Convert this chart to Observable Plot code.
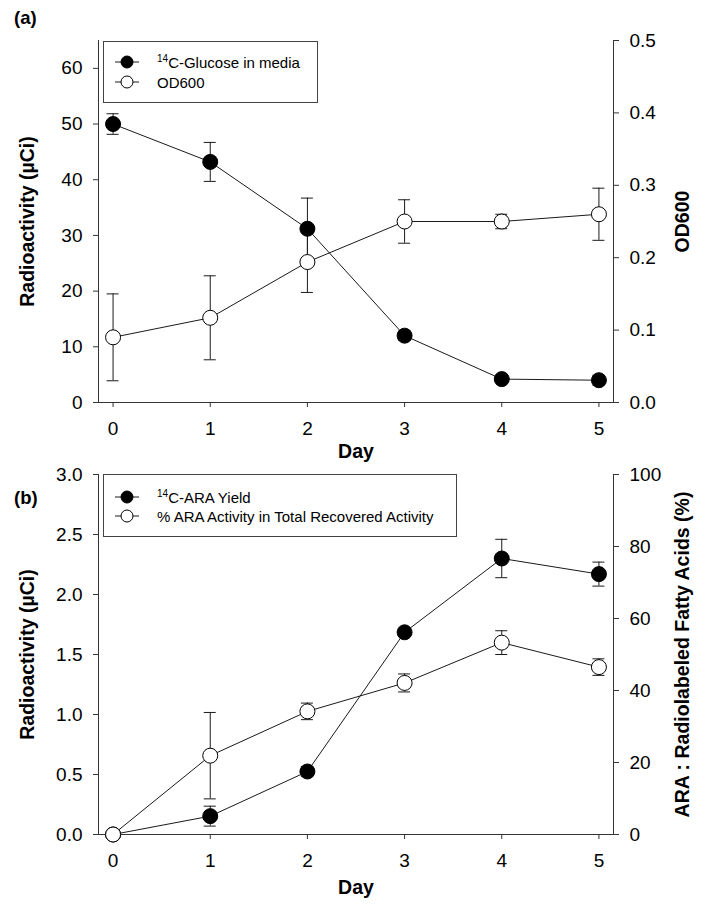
<!DOCTYPE html>
<html><head><meta charset="utf-8">
<script src="https://cdn.jsdelivr.net/npm/d3@7"></script>
<script src="https://cdn.jsdelivr.net/npm/@observablehq/plot@0.6"></script>
<style>
body{margin:0;background:#fff;font-family:"Liberation Sans",Arial,sans-serif;color:#000;}
#wrap{position:relative;width:706px;height:911px;overflow:hidden;background:#fff;}
.panel{position:absolute;left:0;}
.legend{position:absolute;border:1px solid #444;background:#fff;box-sizing:border-box;}
.legend .row{position:absolute;left:0;height:20px;display:flex;align-items:center;font-size:15px;white-space:nowrap;}
.legend .row svg{position:absolute;left:0;top:2px;}
.legend .row span{position:absolute;left:53px;}
.legend sup{font-size:10px;vertical-align:6px;line-height:0;}
.tag{position:absolute;font-weight:bold;font-size:18.5px;}
</style></head>
<body><div id="wrap"></div>
<script>
// ---------- data ----------
const days = [0, 1, 2, 3, 4, 5];

// panel (a)
const glucose    = [50.0, 43.2, 31.2, 12.0, 4.2, 4.0];   // µCi, left axis
const glucoseErr = [1.85, 3.5, 5.5, 0.8, 0.4, 0.9];
const od600      = [0.090, 0.117, 0.194, 0.250, 0.250, 0.260]; // right axis
const od600Err   = [0.060, 0.058, 0.042, 0.030, 0.010, 0.036];
const ticksLeftA  = [0, 10, 20, 30, 40, 50, 60];
const ticksRightA = [0.0, 0.1, 0.2, 0.3, 0.4, 0.5];

// panel (b)
const araYield    = [0.0, 0.153, 0.525, 1.685, 2.30, 2.17]; // µCi, left axis
const araYieldErr = [0.0, 0.083, 0.04, 0.02, 0.16, 0.10];
const araPct      = [0.0, 21.9, 34.2, 42.1, 53.3, 46.5];   // %, right axis
const araPctErr   = [0.0, 12.0, 2.3, 2.5, 3.3, 2.3];
const ticksLeftB  = [0.0, 0.5, 1.0, 1.5, 2.0, 2.5, 3.0];
const ticksRightB = [0, 20, 40, 60, 80, 100];

const legendA = ["C-Glucose in media", "OD600"];
const legendB = ["C-ARA Yield", "% ARA Activity in Total Recovered Activity"];

// ---------- helpers ----------
const FONT = "'Liberation Sans', Arial, Helvetica, sans-serif";
const INK = "#1a1a1a";

function rows(vals, errs, k) {
  return days.map((day, i) => ({day, y: vals[i] * k, lo: (vals[i] - errs[i]) * k, hi: (vals[i] + errs[i]) * k, e: errs[i]}));
}
function errMarks(r) {
  const f = r.filter(d => d.e > 0);
  return [
    Plot.ruleX(f, {x: "day", y1: "lo", y2: "hi", stroke: INK, strokeWidth: 1}),
    Plot.ruleY(f, {y: "hi", x1: "day", x2: "day", insetLeft: -6, insetRight: -6, stroke: INK, strokeWidth: 1}),
    Plot.ruleY(f, {y: "lo", x1: "day", x2: "day", insetLeft: -6, insetRight: -6, stroke: INK, strokeWidth: 1})
  ];
}

function panel({height, marginTop, marginBottom, yDomain, k, ticksL, ticksR, fmtL, fmtR, filledRows, openRows, rightTitle, dayDy}) {
  return Plot.plot({
    width: 706, height, marginLeft: 98, marginRight: 93, marginTop, marginBottom,
    style: {fontFamily: FONT, background: "white", color: "#000", overflow: "visible"},
    x: {domain: [-0.15, 5.15]},
    y: {domain: yDomain},
    marks: [
      Plot.frame({anchor: "left", stroke: "#333"}),
      Plot.frame({anchor: "bottom", stroke: "#333"}),
      Plot.frame({anchor: "right", stroke: "#333"}),
      Plot.axisX(days, {anchor: "bottom", tickSize: 5, tickPadding: 14, fontSize: 19, label: null, stroke: "#333", tickFormat: d => String(d)}),
      Plot.axisY(ticksL, {anchor: "left", tickSize: 5, tickPadding: 11, fontSize: 19, label: null, stroke: "#333", tickFormat: fmtL}),
      Plot.axisY(ticksR.map(v => v * k), {anchor: "right", tickSize: 5, tickPadding: 11, fontSize: 19, label: null, stroke: "#333", tickFormat: v => fmtR(v / k)}),
      Plot.text(["Day"], {text: d => d, frameAnchor: "bottom", textAnchor: "middle", lineAnchor: "middle", dy: dayDy, fontSize: 19.5, fontWeight: "bold"}),
      Plot.text(["Radioactivity (µCi)"], {text: d => d, frameAnchor: "left", textAnchor: "middle", lineAnchor: "middle", rotate: -90, dx: -71, fontSize: 19.5, fontWeight: "bold"}),
      Plot.text([rightTitle], {text: d => d, frameAnchor: "right", textAnchor: "middle", lineAnchor: "middle", rotate: -90, dx: 69, fontSize: 19.5, fontWeight: "bold"}),
      Plot.line(filledRows, {x: "day", y: "y", stroke: INK, strokeWidth: 1}),
      Plot.line(openRows, {x: "day", y: "y", stroke: INK, strokeWidth: 1}),
      ...errMarks(filledRows),
      ...errMarks(openRows),
      Plot.dot(filledRows, {x: "day", y: "y", r: 7.5, fill: "#000", stroke: "#000", strokeWidth: 1}),
      Plot.dot(openRows, {x: "day", y: "y", r: 7.5, fill: "#fff", stroke: "#000", strokeWidth: 1})
    ]
  });
}

const kA = 65 / 0.5;
const kB = 3 / 100;

const plotA = panel({
  height: 462, marginTop: 40, marginBottom: 60, yDomain: [0, 65], k: kA,
  ticksL: ticksLeftA, ticksR: ticksRightA,
  fmtL: d => String(d), fmtR: d => d.toFixed(1),
  filledRows: rows(glucose, glucoseErr, 1), openRows: rows(od600, od600Err, kA),
  rightTitle: "OD600", dayDy: 49
});
const plotB = panel({
  height: 449, marginTop: 12, marginBottom: 77, yDomain: [0, 3], k: kB,
  ticksL: ticksLeftB, ticksR: ticksRightB,
  fmtL: d => d.toFixed(1), fmtR: d => String(Math.round(d)),
  filledRows: rows(araYield, araYieldErr, 1), openRows: rows(araPct, araPctErr, kB),
  rightTitle: "ARA : Radiolabeled Fatty Acids (%)", dayDy: 53
});

const wrap = document.getElementById("wrap");
function place(node, top) {
  const d = document.createElement("div");
  d.className = "panel"; d.style.top = top + "px";
  d.appendChild(node); wrap.appendChild(d);
}
place(plotA, 0);
place(plotB, 462);

function symbol(filled) {
  return `<svg width="40" height="16"><line x1="11" y1="8" x2="35" y2="8" stroke="#1a1a1a" stroke-width="1"/><circle cx="23" cy="8" r="6" fill="${filled ? "#000" : "#fff"}" stroke="#000"/></svg>`;
}
function legend(left, top, w, h, labels, rowTops) {
  const box = document.createElement("div");
  box.className = "legend";
  Object.assign(box.style, {left: left + "px", top: top + "px", width: w + "px", height: h + "px"});
  box.innerHTML = labels.map((t, i) =>
    `<div class="row" style="top:${rowTops[i]}px;width:${w - 2}px">${symbol(i === 0)}<span>${i === 0 ? "<sup>14</sup>" : ""}${t}</span></div>`
  ).join("");
  wrap.appendChild(box);
}
legend(103, 41, 215, 62, legendA, [10, 30]);
legend(103, 474, 354, 63, legendB, [12, 31]);

function tag(text, left, top) {
  const t = document.createElement("div");
  t.className = "tag"; t.textContent = text;
  Object.assign(t.style, {left: left + "px", top: top + "px"});
  wrap.appendChild(t);
}
tag("(a)", 14, 7);
tag("(b)", 14, 487);
</script>
</body></html>
